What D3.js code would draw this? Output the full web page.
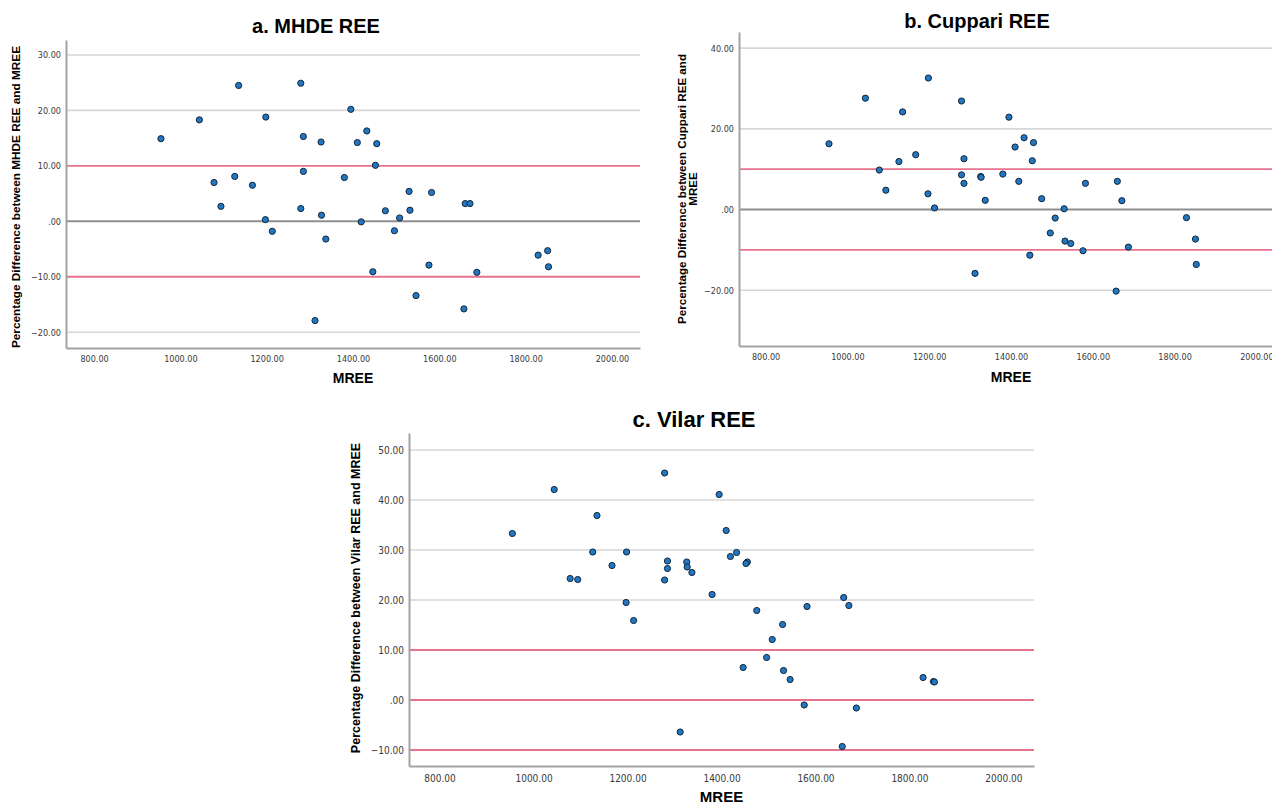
<!DOCTYPE html>
<html>
<head>
<meta charset="utf-8">
<script src="https://cdn.jsdelivr.net/npm/d3@7"></script>
<style>
  html, body { margin: 0; padding: 0; background: #fff; }
  svg { display: block; }
</style>
</head>
<body>
<svg id="chart" width="1272" height="805"></svg>
<script>
// Measured resting energy expenditure (kcal/day), one entry per patient
const mree = [955, 1044, 1135, 1078, 1094, 1126, 1167, 1198, 1197, 1213,
  1279, 1285, 1285, 1279, 1326, 1327, 1337, 1312, 1380, 1395,
  1410, 1432, 1419, 1455, 1452, 1446, 1475, 1496, 1508, 1530,
  1532, 1546, 1576, 1582, 1660, 1671, 1657, 1687, 1829, 1851, 1853];

// Percentage difference between each predictive equation and MREE
const mhdeDiff = [14.9, 18.3, 24.5, 7.0, 2.7, 8.1, 6.5, 18.8, 0.3, -1.8,
  24.9, 15.3, 9.0, 2.3, 14.3, 1.1, -3.2, -17.9, 7.9, 20.2,
  14.2, 16.3, -0.1, 14.0, 10.1, -9.1, 1.9, -1.7, 0.6, 5.4,
  2.0, -13.4, -7.9, 5.2, 3.2, 3.2, -15.8, -9.2, -6.1, -5.3, -8.2];

const cuppariDiff = [16.3, 27.6, 24.2, 9.8, 4.8, 11.9, 13.6, 32.6, 3.9, 0.4,
  26.9, 12.6, 6.5, 8.6, 8.2, 8.0, 2.3, -15.8, 8.8, 22.9,
  15.5, 17.8, 7.0, 16.6, 12.1, -11.3, 2.7, -5.8, -2.1, 0.2,
  -7.8, -8.4, -10.2, 6.5, 7.0, 2.2, -20.2, -9.3, -2.0, -7.3, -13.6];

const vilarDiff = [33.3, 42.1, 36.9, 24.3, 24.1, 29.6, 26.9, 29.6, 19.5, 15.9,
  45.4, 27.8, 26.3, 24.0, 27.6, 26.6, 25.5, -6.4, 21.1, 41.1,
  33.9, 29.5, 28.7, 27.6, 27.3, 6.5, 17.9, 8.5, 12.1, 15.1,
  5.9, 4.1, -1.0, 18.7, 20.5, 18.9, -9.3, -1.6, 4.5, 3.7, 3.6];

// Axis ticks
const xTicks = [800, 1000, 1200, 1400, 1600, 1800, 2000];
const mhdeTicks = [30, 20, 10, 0, -10, -20];
const cuppariTicks = [40, 20, 0, -20];
const vilarTicks = [50, 40, 30, 20, 10, 0, -10];

// Reference lines: agreement limits (±10 %) and zero
const limitLines = [10, -10];

const titles = ["a. MHDE REE", "b. Cuppari REE", "c. Vilar REE"];
const yLabels = [
  ["Percentage Difference between MHDE REE and MREE"],
  ["Percentage Difference between Cuppari REE and", "MREE"],
  ["Percentage Difference between Vilar REE and MREE"]
];
const xLabel = "MREE";

const svg = d3.select("#chart");
svg.append("rect").attr("width", 1272).attr("height", 805).attr("fill", "#fff");

const fmt = v => v === 0 ? ".00" : d3.format(".2f")(v);

const COLORS = {
  grid: "#d6d6d6",
  zero: "#8e8e8e",
  limit: "#e7738f",
  axis: "#a3a3a3",
  tick: "#3a3a3a",
  dotFill: "#2376c2",
  dotStroke: "#10273a"
};

function drawPanel(cfg) {
  const { left, right, top, bottom, yDomain, yTicks, values, zeroPink,
          title, titleX, titleY, titleSize, yLab, yLabX, yLabY, yLabSize,
          xLabY, xLabSize, tickSize, xTickDy } = cfg;

  const x = d3.scaleLinear().domain([735, 2065]).range([left, right]);
  const y = d3.scaleLinear().domain(yDomain).range([bottom, top]);
  const g = svg.append("g");

  // horizontal gridlines
  g.selectAll("line.grid").data(yTicks.filter(t => t !== 0 && !limitLines.includes(t)))
    .join("line").attr("class", "grid")
    .attr("x1", left).attr("x2", right)
    .attr("y1", d => y(d)).attr("y2", d => y(d))
    .attr("stroke", COLORS.grid).attr("stroke-width", 1.6);

  // ±10 % limits
  g.selectAll("line.limit").data(limitLines).join("line").attr("class", "limit")
    .attr("x1", left).attr("x2", right)
    .attr("y1", d => y(d)).attr("y2", d => y(d))
    .attr("stroke", COLORS.limit).attr("stroke-width", 1.8);

  // zero line
  g.append("line")
    .attr("x1", left).attr("x2", right)
    .attr("y1", y(0)).attr("y2", y(0))
    .attr("stroke", zeroPink ? COLORS.limit : COLORS.zero)
    .attr("stroke-width", zeroPink ? 1.8 : 2);

  // axes (lines only, no tick marks)
  const yAxis = d3.axisLeft(y).tickValues(yTicks).tickFormat(fmt).tickSize(0).tickPadding(5);
  const xAxis = d3.axisBottom(x).tickValues(xTicks).tickFormat(fmt).tickSize(0).tickPadding(xTickDy);

  const ya = g.append("g").attr("transform", `translate(${left},0)`).call(yAxis);
  const xa = g.append("g").attr("transform", `translate(0,${bottom})`).call(xAxis);
  [ya, xa].forEach(a => {
    a.select(".domain").attr("stroke", COLORS.axis).attr("stroke-width", 2);
    a.selectAll("text")
      .attr("fill", COLORS.tick)
      .style("font-family", "'DejaVu Sans Condensed', 'DejaVu Sans', sans-serif")
      .style("font-size", tickSize + "px");
  });

  // data points
  g.selectAll("circle").data(mree.map((m, i) => [m, values[i]]))
    .join("circle")
    .attr("cx", d => x(d[0])).attr("cy", d => y(d[1])).attr("r", 3.1)
    .attr("fill", COLORS.dotFill).attr("stroke", COLORS.dotStroke).attr("stroke-width", 1);

  // title
  svg.append("text").attr("x", titleX).attr("y", titleY)
    .attr("text-anchor", "middle")
    .style("font-family", "'Liberation Sans', Arial, sans-serif")
    .style("font-weight", "bold").style("font-size", titleSize + "px")
    .text(title);

  // y-axis label
  const yl = svg.append("text")
    .attr("transform", `translate(${yLabX},${yLabY}) rotate(-90)`)
    .attr("text-anchor", "middle")
    .style("font-family", "'Liberation Sans', Arial, sans-serif")
    .style("font-weight", "bold").style("font-size", yLabSize + "px");
  yLab.forEach((line, i) => {
    yl.append("tspan").attr("x", 0).attr("dy", i === 0 ? 0 : "1.03em").text(line);
  });

  // x-axis label
  svg.append("text").attr("x", (left + right) / 2).attr("y", xLabY)
    .attr("text-anchor", "middle")
    .style("font-family", "'Liberation Sans', Arial, sans-serif")
    .style("font-weight", "bold").style("font-size", xLabSize + "px")
    .text(xLabel);
}

drawPanel({
  left: 66, right: 640, top: 40, bottom: 348,
  yDomain: [-22.85, 32.7], yTicks: mhdeTicks, values: mhdeDiff, zeroPink: false,
  title: titles[0], titleX: 316, titleY: 33, titleSize: 20,
  yLab: yLabels[0], yLabX: 19.5, yLabY: 197, yLabSize: 11.8,
  xLabY: 383, xLabSize: 14, tickSize: 9, xTickDy: 8
});

drawPanel({
  left: 739, right: 1283, top: 32, bottom: 346,
  yDomain: [-33.8, 44.0], yTicks: cuppariTicks, values: cuppariDiff, zeroPink: false,
  title: titles[1], titleX: 977, titleY: 28, titleSize: 20,
  yLab: yLabels[1], yLabX: 685.5, yLabY: 189, yLabSize: 11.6,
  xLabY: 382, xLabSize: 14, tickSize: 9, xTickDy: 8
});

drawPanel({
  left: 409, right: 1034, top: 433, bottom: 766,
  yDomain: [-13.2, 53.4], yTicks: vilarTicks, values: vilarDiff, zeroPink: true,
  title: titles[2], titleX: 694, titleY: 427, titleSize: 22,
  yLab: yLabels[2], yLabX: 359.5, yLabY: 598, yLabSize: 12.5,
  xLabY: 802, xLabSize: 15, tickSize: 10, xTickDy: 9
});
</script>
</body>
</html>
